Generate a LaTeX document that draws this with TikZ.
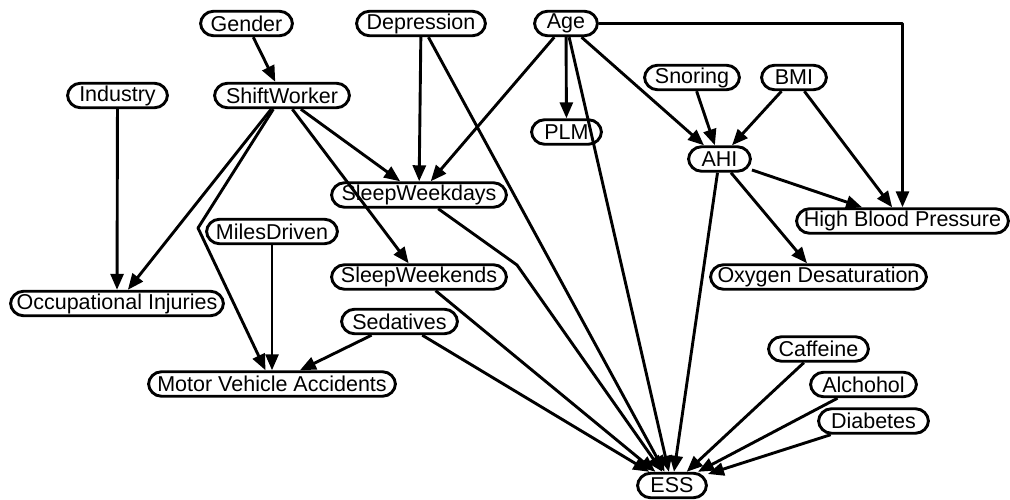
\documentclass[tikz,border=0pt]{standalone}
\usepackage{fontspec}
\setsansfont{Liberation Sans}
\usetikzlibrary{arrows.meta,positioning,calc}
\definecolor{bnInk}{HTML}{000000}
\tikzset{
  bnArrow/.style={-{Triangle[length=16pt,width=13pt]}, line width=2.9pt, draw=bnInk, line join=round},
  bnVar/.style={
    draw=bnInk,
    rounded corners=13pt,
    line width=2.9pt,
    minimum height=24.5pt,
    inner xsep=0pt,
    inner ysep=0pt
  }
}

\begin{document}
\begin{tikzpicture}[x=1pt, y=-1pt, font=\sffamily\fontsize{21.5}{25}\selectfont]
  \useasboundingbox (0,0) rectangle (1010,500);

  % parents on the top rows
  \node[bnVar, minimum width=92pt]  (gender)     at (246.5,23.5) {Gender};
  \node[bnVar, minimum width=129pt] (depression) at (421,23.5)   {Depression};
  \node[bnVar, minimum width=63pt]  (age)        at (566,23.5)   {Age};
  \node[bnVar, minimum width=100pt] (industry)   at (117.5,95.5) {Industry};
  \node[bnVar, minimum width=135pt] (shift)      at (282,95.5)   {ShiftWorker};
  \node[bnVar, minimum width=95pt]  (snoring)    at (692,77.5)   {Snoring};
  \node[bnVar, minimum width=65pt]  (bmi)        at (794,77.5)   {BMI};
  \node[bnVar, minimum width=70pt]  (plm)        at (566.5,132)  {PLM};
  \node[bnVar, minimum width=62pt]  (ahi)        at (719.5,159)  {AHI};

  % middle block
  \node[bnVar, minimum width=175pt] (sleepwd)    at (419,195)    {SleepWeekdays};
  \node[bnVar, minimum width=212pt] (hbp)        at (902.5,221)  {High Blood Pressure};
  \node[bnVar, minimum width=131pt] (miles)      at (272,231.5)  {MilesDriven};
  \node[bnVar, minimum width=175pt] (sleepwe)    at (419,277)    {SleepWeekends};
  \node[bnVar, minimum width=216pt] (oxygen)     at (818.5,277)  {Oxygen Desaturation};
  \node[bnVar, minimum width=213pt] (occinj)     at (117,303.5)  {Occupational Injuries};
  \node[bnVar, minimum width=116pt] (sedatives)  at (399.5,321.5) {Sedatives};

  % outcomes and the last parents of ESS
  \node[bnVar, minimum width=100pt] (caffeine)   at (818.5,349)  {Caffeine};
  \node[bnVar, minimum width=247pt] (mva)        at (272,384)    {Motor Vehicle Accidents};
  \node[bnVar, minimum width=106pt] (alcohol)    at (863.5,384.5) {Alchohol};
  \node[bnVar, minimum width=110pt] (diabetes)   at (873.5,421)  {Diabetes};
  \node[bnVar, minimum width=69pt]  (ess)        at (672,485.5)  {ESS};

  \foreach \a/\b in {gender/shift,industry/occinj,shift/occinj,shift/sleepwd,shift/sleepwe,
                     depression/sleepwd,depression/ess,age/sleepwd,age/plm,age/ess,age/ahi,
                     snoring/ahi,bmi/ahi,bmi/hbp,ahi/hbp,ahi/oxygen,ahi/ess,miles/mva,
                     sedatives/mva,sedatives/ess,sleepwe/ess,caffeine/ess,alcohol/ess,diabetes/ess}
    \draw[bnArrow] (\a) -- (\b);

  \coordinate (mvaBend) at (198,228);
  \coordinate (wkdBend) at (517,265);
  \draw[bnArrow] (shift) -- (mvaBend) -- (mva);
  \draw[bnArrow] (sleepwd) -- (wkdBend) -- (ess);
  \draw[bnArrow] (age) -| (hbp);
\end{tikzpicture}
\end{document}
